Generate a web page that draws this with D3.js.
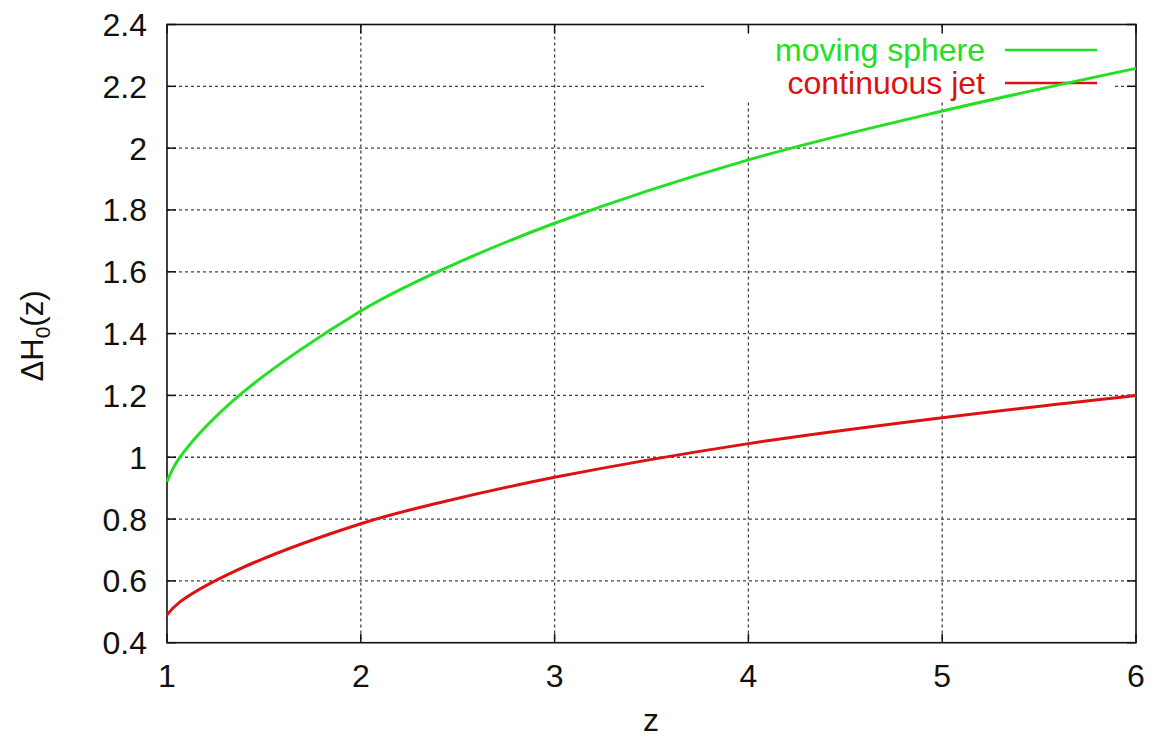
<!DOCTYPE html>
<html><head><meta charset="utf-8">
<script src="https://cdn.jsdelivr.net/npm/d3@7"></script>
<style>
body{margin:0;background:#fff;}
text{font-family:"Liberation Sans",Arial,Helvetica,sans-serif;fill:#111;}
</style></head>
<body><svg id="c" width="1149" height="737"></svg>
<script>
const xTicks=[1,2,3,4,5,6];
const yTicks=[0.4,0.6,0.8,1.0,1.2,1.4,1.6,1.8,2.0,2.2,2.4];
const yTickLabels=["0.4","0.6","0.8","1","1.2","1.4","1.6","1.8","2","2.2","2.4"];
const seriesNames=["moving sphere","continuous jet"];
const seriesColors=["#22e022","#dd1111"];
const sphereZ=[1,1.067,1.373,2,2.4,3,4,5,6];
const sphereV=[0.921,1.0,1.2,1.473,1.601,1.757,1.962,2.12,2.258];
const jetZ=[1,1.067,1.373,2,2.4,3,4,5,6];
const jetV=[0.49,0.532,0.638,0.785,0.852,0.935,1.044,1.128,1.2];

const svg=d3.select("#c");
const L=167,R=1136,T=24.5,B=642.7;
const x=d3.scaleLinear().domain([1,6]).range([L,R]);
const y=d3.scaleLinear().domain([0.4,2.4]).range([B,T]);

// grid
const g=svg.append("g");
g.selectAll("line.vg").data(xTicks.slice(1,-1)).join("line")
 .attr("x1",d=>x(d)).attr("x2",d=>x(d)).attr("y1",T).attr("y2",B)
 .attr("stroke","#444").attr("stroke-width",1.3).attr("stroke-dasharray","3,3");
g.selectAll("line.hg").data(yTicks.slice(1,-1)).join("line")
 .attr("y1",d=>y(d)).attr("y2",d=>y(d)).attr("x1",L).attr("x2",R)
 .attr("stroke","#444").attr("stroke-width",1.3).attr("stroke-dasharray","3,3");

// legend box (white, hides grid)
svg.append("rect").attr("x",705).attr("y",29).attr("width",407).attr("height",71).attr("fill","#fff");

// ticks (mirrored, inward)
const tl=9;
const tk=svg.append("g").attr("stroke","#111").attr("stroke-width",1.5);
xTicks.forEach(d=>{
  tk.append("line").attr("x1",x(d)).attr("x2",x(d)).attr("y1",B).attr("y2",B-tl);
  tk.append("line").attr("x1",x(d)).attr("x2",x(d)).attr("y1",T).attr("y2",T+tl);
});
yTicks.forEach(d=>{
  tk.append("line").attr("y1",y(d)).attr("y2",y(d)).attr("x1",L).attr("x2",L+tl);
  tk.append("line").attr("y1",y(d)).attr("y2",y(d)).attr("x1",R).attr("x2",R-tl);
});

// frame
svg.append("rect").attr("x",L).attr("y",T).attr("width",R-L).attr("height",B-T)
 .attr("fill","none").attr("stroke","#111").attr("stroke-width",1.6);

// tick labels
svg.append("g").selectAll("text").data(yTicks).join("text")
 .attr("x",147).attr("y",d=>y(d)+11.5).attr("text-anchor","end")
 .attr("font-size",32).text((d,i)=>yTickLabels[i]);
svg.append("g").selectAll("text").data(xTicks).join("text")
 .attr("x",d=>x(d)).attr("y",687).attr("text-anchor","middle")
 .attr("font-size",32).text(d=>d);

// axis labels
svg.append("text").attr("x",651).attr("y",731).attr("text-anchor","middle").attr("font-size",32).text("z");
const yl=svg.append("text").attr("transform","translate(43,336) rotate(-90)").attr("text-anchor","middle").attr("font-size",31);
yl.append("tspan").text("ΔH");
yl.append("tspan").attr("font-size",21).attr("dy",7).text("0");
yl.append("tspan").attr("dy",-7).text("(z)");

// legend entries
const legLineY=[50,83], legTextY=[61,94];
seriesNames.forEach((n,i)=>{
  svg.append("text").attr("x",985).attr("y",legTextY[i]).attr("text-anchor","end")
   .attr("font-size",32).style("fill",seriesColors[i]).text(n);
  svg.append("line").attr("x1",1005).attr("x2",1097).attr("y1",legLineY[i]).attr("y2",legLineY[i])
   .attr("stroke",seriesColors[i]).attr("stroke-width",2.5);
});

// curves
const line=d3.line().x(d=>x(d[0])).y(d=>y(d[1])).curve(d3.curveCatmullRom.alpha(0.5));
const jet=jetZ.map((z,i)=>[z,jetV[i]]);
const sph=sphereZ.map((z,i)=>[z,sphereV[i]]);
svg.append("path").attr("d",line(jet)).attr("fill","none").attr("stroke",seriesColors[1]).attr("stroke-width",3);
svg.append("path").attr("d",line(sph)).attr("fill","none").attr("stroke",seriesColors[0]).attr("stroke-width",3);
</script></body></html>
